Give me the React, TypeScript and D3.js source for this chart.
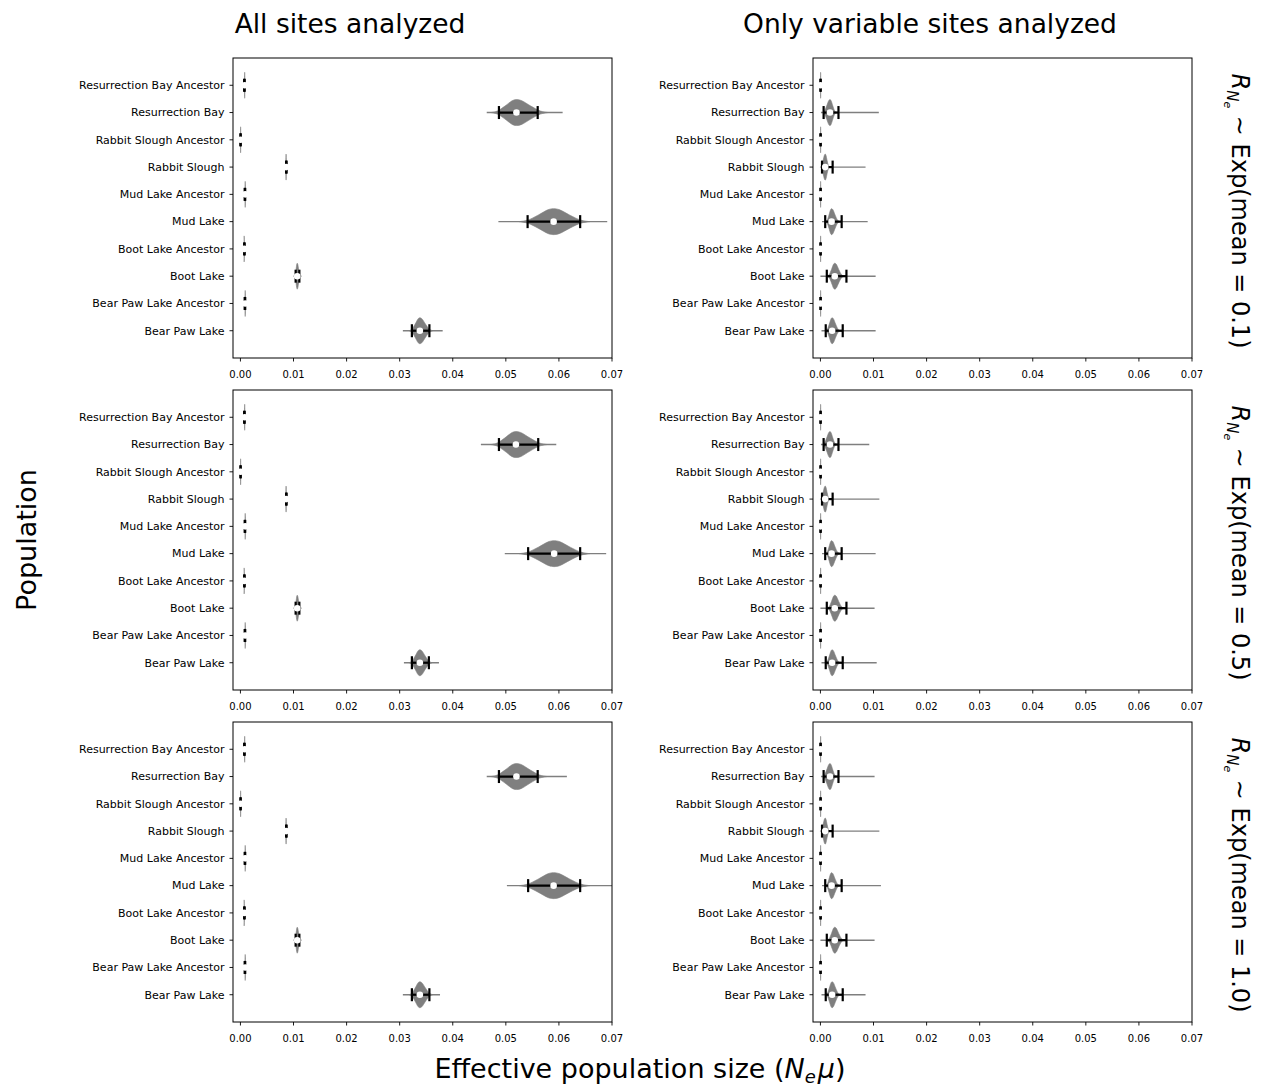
import React from "react";
import * as d3 from "d3";

const populations = [
  "Resurrection Bay Ancestor",
  "Resurrection Bay",
  "Rabbit Slough Ancestor",
  "Rabbit Slough",
  "Mud Lake Ancestor",
  "Mud Lake",
  "Boot Lake Ancestor",
  "Boot Lake",
  "Bear Paw Lake Ancestor",
  "Bear Paw Lake",
];

const xTicks = [0, 0.01, 0.02, 0.03, 0.04, 0.05, 0.06, 0.07];
const columnTitles = ["All sites analyzed", "Only variable sites analyzed"];
const priorMeans = ["0.1", "0.5", "1.0"];

// each row: [min, bodyLow, hpdLow, median, hpdHigh, bodyHigh, max]
type Row = [number, number, number, number, number, number, number];

const allSitesMean01: Row[] = [
  [0.0006, 0.0007, 0.0007, 0.0008, 0.0008, 0.0009, 0.001],
  [0.0464, 0.0472, 0.0487, 0.052, 0.056, 0.058, 0.0607],
  [0.0, 0.0, 0.0, 0.00003, 0.00005, 0.0001, 0.0001],
  [0.0084, 0.0085, 0.0086, 0.0086, 0.0087, 0.0087, 0.0088],
  [0.0007, 0.0008, 0.0008, 0.0009, 0.0009, 0.001, 0.0011],
  [0.0486, 0.0525, 0.0541, 0.059, 0.064, 0.0658, 0.0691],
  [0.0006, 0.0007, 0.0007, 0.0007, 0.0008, 0.0008, 0.0009],
  [0.01, 0.0102, 0.0104, 0.0107, 0.0111, 0.0113, 0.0115],
  [0.0007, 0.0008, 0.0008, 0.0009, 0.0009, 0.001, 0.0011],
  [0.0306, 0.0318, 0.0323, 0.0338, 0.0356, 0.0362, 0.0381],
];

const variableSitesMean01: Row[] = [
  [0.0, 0.0, 0.0, 0.00003, 0.00005, 0.0001, 0.0001],
  [0.0001, 0.0004, 0.0006, 0.0018, 0.0034, 0.003, 0.011],
  [0.0, 0.0, 0.0, 0.00003, 0.00005, 0.0001, 0.0001],
  [0.0002, 0.0, 0.0003, 0.0009, 0.0023, 0.0017, 0.0085],
  [0.0, 0.0, 0.0, 0.00003, 0.00005, 0.0001, 0.0001],
  [0.0003, 0.001, 0.0009, 0.0021, 0.004, 0.0036, 0.0089],
  [0.0, 0.0, 0.0, 0.00003, 0.00005, 0.0001, 0.0001],
  [0.0, 0.0013, 0.0012, 0.0027, 0.0049, 0.0044, 0.0104],
  [0.0, 0.0, 0.0, 0.00003, 0.00005, 0.0001, 0.0001],
  [0.0002, 0.001, 0.001, 0.0022, 0.0042, 0.0037, 0.0104],
];

const allSitesMean05: Row[] = [
  [0.0006, 0.0007, 0.0007, 0.0008, 0.0008, 0.0009, 0.001],
  [0.0453, 0.0472, 0.0487, 0.0519, 0.0561, 0.0578, 0.0595],
  [0.0, 0.0, 0.0, 0.00003, 0.00005, 0.0001, 0.0001],
  [0.0084, 0.0085, 0.0086, 0.0086, 0.0087, 0.0087, 0.0088],
  [0.0007, 0.0008, 0.0008, 0.0009, 0.0009, 0.001, 0.0011],
  [0.0498, 0.0525, 0.0542, 0.0591, 0.064, 0.0658, 0.0689],
  [0.0006, 0.0007, 0.0007, 0.0007, 0.0008, 0.0008, 0.0009],
  [0.01, 0.0102, 0.0104, 0.0107, 0.0111, 0.0113, 0.0115],
  [0.0007, 0.0008, 0.0008, 0.0009, 0.0009, 0.001, 0.0011],
  [0.0308, 0.0318, 0.0323, 0.0338, 0.0355, 0.0361, 0.0374],
];

const variableSitesMean05: Row[] = [
  [0.0, 0.0, 0.0, 0.00003, 0.00005, 0.0001, 0.0001],
  [0.0001, 0.0004, 0.0006, 0.0018, 0.0034, 0.003, 0.0092],
  [0.0, 0.0, 0.0, 0.00003, 0.00005, 0.0001, 0.0001],
  [0.0002, 0.0, 0.0003, 0.0009, 0.0023, 0.0017, 0.0111],
  [0.0, 0.0, 0.0, 0.00003, 0.00005, 0.0001, 0.0001],
  [0.0003, 0.001, 0.0009, 0.0021, 0.004, 0.0036, 0.0104],
  [0.0, 0.0, 0.0, 0.00003, 0.00005, 0.0001, 0.0001],
  [0.0, 0.0013, 0.0012, 0.0027, 0.0049, 0.0044, 0.0102],
  [0.0, 0.0, 0.0, 0.00003, 0.00005, 0.0001, 0.0001],
  [0.0002, 0.001, 0.001, 0.0022, 0.0042, 0.0037, 0.0106],
];

const allSitesMean10: Row[] = [
  [0.0006, 0.0007, 0.0007, 0.0008, 0.0008, 0.0009, 0.001],
  [0.0464, 0.0472, 0.0487, 0.052, 0.056, 0.0578, 0.0615],
  [0.0, 0.0, 0.0, 0.00003, 0.00005, 0.0001, 0.0001],
  [0.0084, 0.0085, 0.0086, 0.0086, 0.0087, 0.0087, 0.0088],
  [0.0007, 0.0008, 0.0008, 0.0009, 0.0009, 0.001, 0.0011],
  [0.0502, 0.0525, 0.0542, 0.059, 0.064, 0.0658, 0.0705],
  [0.0006, 0.0007, 0.0007, 0.0007, 0.0008, 0.0008, 0.0009],
  [0.01, 0.0102, 0.0104, 0.0107, 0.0111, 0.0113, 0.0115],
  [0.0007, 0.0008, 0.0008, 0.0009, 0.0009, 0.001, 0.0011],
  [0.0306, 0.0318, 0.0323, 0.0338, 0.0356, 0.0362, 0.0376],
];

const variableSitesMean10: Row[] = [
  [0.0, 0.0, 0.0, 0.00003, 0.00005, 0.0001, 0.0001],
  [0.0001, 0.0004, 0.0006, 0.0018, 0.0034, 0.003, 0.0102],
  [0.0, 0.0, 0.0, 0.00003, 0.00005, 0.0001, 0.0001],
  [0.0002, 0.0, 0.0003, 0.0009, 0.0023, 0.0017, 0.0111],
  [0.0, 0.0, 0.0, 0.00003, 0.00005, 0.0001, 0.0001],
  [0.0003, 0.001, 0.0009, 0.0021, 0.004, 0.0036, 0.0114],
  [0.0, 0.0, 0.0, 0.00003, 0.00005, 0.0001, 0.0001],
  [0.0, 0.0013, 0.0012, 0.0027, 0.0049, 0.0044, 0.0102],
  [0.0, 0.0, 0.0, 0.00003, 0.00005, 0.0001, 0.0001],
  [0.0002, 0.001, 0.001, 0.0022, 0.0042, 0.0037, 0.0085],
];

const panelData: Row[][][] = [
  [allSitesMean01, variableSitesMean01],
  [allSitesMean05, variableSitesMean05],
  [allSitesMean10, variableSitesMean10],
];

// generic violin outline template: relative position (-1..1) -> relative half width
const violinProfile: [number, number][] = [
  [-1, 0],
  [-0.75, 0.12],
  [-0.45, 0.5],
  [-0.15, 0.93],
  [0, 1],
  [0.15, 0.93],
  [0.45, 0.5],
  [0.75, 0.12],
  [1, 0],
];

const FONT = "'DejaVu Sans', sans-serif";
const W = 1266;
const H = 1087;
const colLeft = [233, 813];
const panelWidth = 379;
const rowTop = [58, 390, 722];
const panelHeight = 300;
const halfWidth = 13;
const capHalf = 6.5;

function Panel({ data, left, top, clipId }: { data: Row[]; left: number; top: number; clipId: string }) {
  const x = d3.scaleLinear().domain([-0.0014, 0.07]).range([left, left + panelWidth]);
  const y = d3.scaleLinear().domain([-1, 10]).range([top, top + panelHeight]);
  return (
    <g>
      <defs>
        <clipPath id={clipId}>
          <rect x={left} y={top} width={panelWidth} height={panelHeight} />
        </clipPath>
      </defs>
      <g clipPath={`url(#${clipId})`}>
        {data.map((r, i) => {
          const [mn, bLo, hLo, med, hHi, bHi, mx] = r;
          const cy = y(i);
          const pts = violinProfile.map(([t, w]) => {
            const v = t < 0 ? med + t * (med - bLo) : med + t * (bHi - med);
            return [x(v), w] as [number, number];
          });
          const area = d3
            .area<[number, number]>()
            .x((p) => p[0])
            .y0((p) => cy - p[1] * halfWidth)
            .y1((p) => cy + p[1] * halfWidth)
            .curve(d3.curveCatmullRom);
          return (
            <g key={i}>
              <line x1={x(mn)} x2={x(mx)} y1={cy} y2={cy} stroke="#7f7f7f" strokeWidth={1.4} />
              <path d={area(pts) || ""} fill="#7f7f7f" stroke="#7f7f7f" strokeWidth={0.6} />
              <line x1={x(hLo)} x2={x(hHi)} y1={cy} y2={cy} stroke="#000" strokeWidth={2.2} />
              <line x1={x(hLo)} x2={x(hLo)} y1={cy - capHalf} y2={cy + capHalf} stroke="#000" strokeWidth={2.2} />
              <line x1={x(hHi)} x2={x(hHi)} y1={cy - capHalf} y2={cy + capHalf} stroke="#000" strokeWidth={2.2} />
              <circle cx={x(med)} cy={cy} r={3.3} fill="#fff" />
            </g>
          );
        })}
      </g>
      <rect x={left} y={top} width={panelWidth} height={panelHeight} fill="none" stroke="#000" strokeWidth={1} />
      {populations.map((p, i) => (
        <g key={p}>
          <line x1={left - 3.5} x2={left} y1={y(i)} y2={y(i)} stroke="#000" strokeWidth={0.9} />
          <text x={left - 8.5} y={y(i)} dy="0.35em" textAnchor="end" fontSize={11} fontFamily={FONT}>
            {p}
          </text>
        </g>
      ))}
      {xTicks.map((t) => (
        <g key={t}>
          <line x1={x(t)} x2={x(t)} y1={top + panelHeight} y2={top + panelHeight + 3.5} stroke="#000" strokeWidth={0.9} />
          <text x={x(t)} y={top + panelHeight + 16} dy="0.35em" textAnchor="middle" fontSize={10} fontFamily={FONT}>
            {t.toFixed(2)}
          </text>
        </g>
      ))}
    </g>
  );
}

export default function App() {
  return (
    <svg width={W} height={H} style={{ position: "absolute", left: 0, top: 0, background: "#fff" }}>
      <rect width={W} height={H} fill="#fff" />
      {columnTitles.map((t, c) => (
        <text key={t} x={c === 0 ? 350 : 930} y={33} textAnchor="middle" fontSize={26.5} fontFamily={FONT}>
          {t}
        </text>
      ))}
      {panelData.map((rowPanels, r) =>
        rowPanels.map((d, c) => (
          <Panel key={`${r}-${c}`} data={d} left={colLeft[c]} top={rowTop[r]} clipId={`clip-${r}-${c}`} />
        ))
      )}
      {priorMeans.map((m, r) => {
        const cy = rowTop[r] + panelHeight / 2 + 3;
        return (
          <text key={m} transform={`translate(1232,${cy}) rotate(90)`} textAnchor="middle" fontSize={24} fontFamily={FONT}>
            <tspan fontStyle="italic">R</tspan>
            <tspan fontStyle="italic" fontSize={15} dy={5}>N</tspan>
            <tspan fontStyle="italic" fontSize={11} dy={3}>e</tspan>
            <tspan dy={-8}>{"  ∼ Exp(mean = " + m + ")"}</tspan>
          </text>
        );
      })}
      <text transform={`translate(36,540) rotate(-90)`} textAnchor="middle" fontSize={27} fontFamily={FONT}>
        Population
      </text>
      <text x={640} y={1078} textAnchor="middle" fontSize={27} fontFamily={FONT}>
        Effective population size (
        <tspan fontStyle="italic">N</tspan>
        <tspan fontStyle="italic" fontSize={18} dy={5}>e</tspan>
        <tspan fontStyle="italic" dy={-5} dx={2}>μ</tspan>)
      </text>
    </svg>
  );
}
